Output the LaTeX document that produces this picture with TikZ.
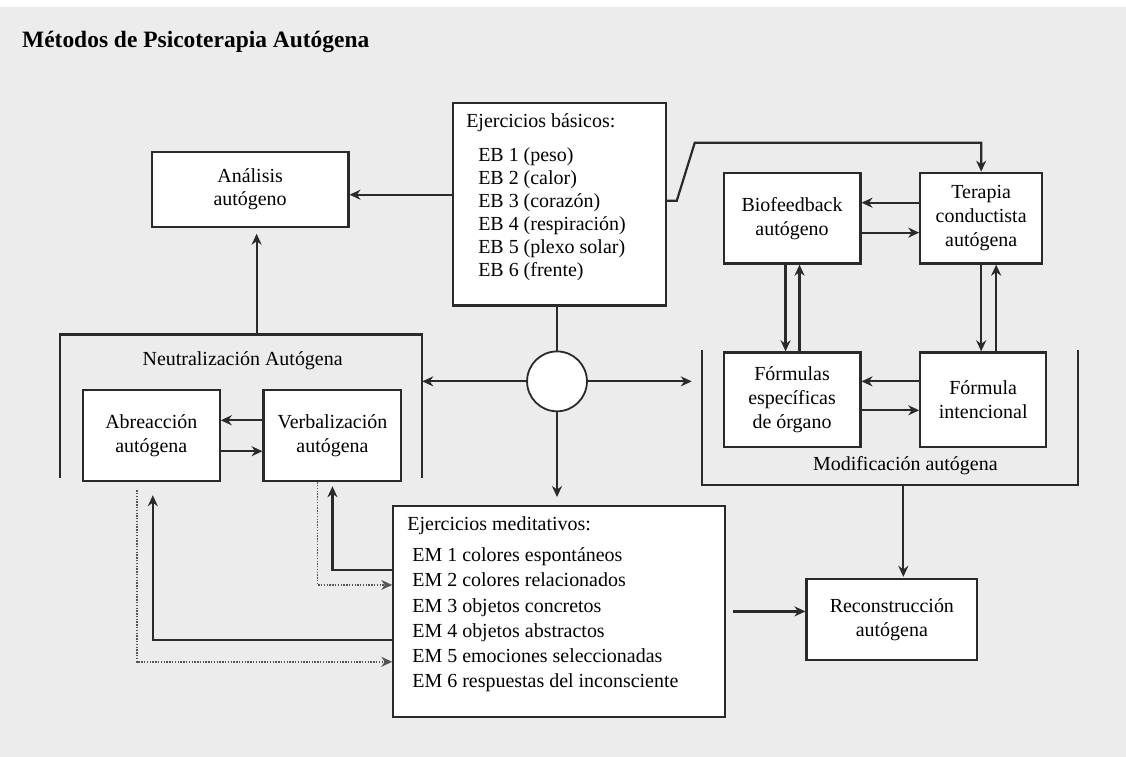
\documentclass[tikz,border=0pt]{standalone}
\usepackage{fontspec}
\setmainfont{Liberation Serif}
\usetikzlibrary{arrows.meta,calc}
\definecolor{bgray}{HTML}{ECECEC}
\definecolor{ink}{HTML}{2A2A2A}
\newcommand\dgfont{\fontsize{20}{24}\selectfont}
\newcommand\dgtitle{\fontsize{23.5}{28}\selectfont\bfseries}
\begin{document}
\begin{tikzpicture}[x=1pt,y=-1pt,
  line width=2.2pt,
  every path/.style={draw=ink},
  box/.style={draw=ink, fill=white, line width=2.2pt, inner sep=0pt, align=center, font=\dgfont, text=black},
  txt/.style={inner sep=0pt, font=\dgfont, text=black, anchor=base west},
  arr/.style={-{Stealth[length=11pt,width=10pt,inset=3.5pt]}},
  dots/.style={draw=ink!80, line width=1.5pt, dash pattern=on 1.4pt off 1.4pt}
]
% canvas
\useasboundingbox (0,0) rectangle (1126,756);
\fill[bgray] (0,0) rectangle (1126,756);
\fill[white] (0,0) rectangle (1126,5);

% title
\node[inner sep=0pt, font=\dgtitle, anchor=base west] (title) at (20,46.7) {Métodos de Psicoterapia Autógena};

% boxes
\node[box, minimum width=197pt, minimum height=75pt] (ana) at (249.5,188.5) {Análisis\\autógeno};
\node[box, minimum width=213pt, minimum height=203pt] (eb) at (559.5,203.5) {};
\node[box, minimum width=137pt, minimum height=91pt] (bio) at (792.5,217.5) {Biofeedback\\autógeno};
\node[box, minimum width=122pt, minimum height=91pt] (ter) at (982,217.5) {Terapia\\conductista\\autógena};
\node[box, minimum width=137pt, minimum height=95pt] (esp) at (792.5,399.5) {Fórmulas\\específicas\\de órgano};
\node[box, minimum width=126pt, minimum height=95pt] (int) at (984,399.5) {Fórmula\\intencional};
\node[box, minimum width=137pt, minimum height=91pt] (abr) at (150.5,435.5) {Abreacción\\autógena};
\node[box, minimum width=138pt, minimum height=91pt] (ver) at (332,435.5) {Verbalización\\autógena};
\node[box, minimum width=332pt, minimum height=211pt] (em) at (559,611.5) {};
\node[box, minimum width=171pt, minimum height=81pt] (rec) at (892.5,619.5) {Reconstrucción\\autógena};
\node[box, circle, minimum size=60pt, line width=1.8pt] (circ) at (557,381) {};

% basic exercises list
\node[txt] (ebh) at (465,127) {Ejercicios básicos:};
\foreach \i/\t in {1/peso,2/calor,3/corazón,4/respiración,5/plexo solar,6/frente}
  \node[txt] (eb\i) at (477,{161+23*(\i-1)}) {EB \i\ (\t)};

% meditative exercises list
\node[txt] (emh) at (406,530) {Ejercicios meditativos:};
\foreach \i/\t in {1/colores espontáneos,2/colores relacionados,3/objetos concretos,4/objetos abstractos,5/emociones seleccionadas,6/respuestas del inconsciente}
  \node[txt] (em\i) at (411,{561.7+25.2*(\i-1)}) {EM \i\ \t};

% group brackets
\coordinate (nbl) at (59,478);
\coordinate (ntl) at (59,334);
\coordinate (ntr) at (422,334);
\coordinate (nbr) at (422,478);
\coordinate (ntop) at (256,334);
\draw (nbl) -- (ntl) -- (ntr) -- (nbr);
\node[inner sep=0pt, font=\dgfont] (neu) at (242,360) {Neutralización Autógena};

\coordinate (mtl) at (702,350);
\coordinate (mbl) at (702,485);
\coordinate (mbr) at (1079,485);
\coordinate (mtr) at (1079,350);
\coordinate (mbot) at (904,485);
\draw (mtl) -- (mbl) -- (mbr) -- (mtr);
\node[inner sep=0pt, font=\dgfont] (mod) at (906,465) {Modificación autógena};

% connectors from the basic exercises
\coordinate (e1) at ([yshift=9.5pt]eb.west);
\draw[arr] (e1) -- (e1 -| ana.east);
\coordinate (k0) at ([yshift=3.5pt]eb.east);
\coordinate (k1) at (677,200);
\coordinate (k2) at (695,142);
\draw[arr] (k0) -- (k1) -- (k2) -- (k2 -| ter.north) -- (ter.north);
\draw (circ.north |- eb.south) -- (circ.north);

% hub
\draw[arr] (circ.west) -- (circ.west -| ntr);
\draw[arr, shorten >=10pt] (circ.east) -- (circ.east -| mtl);
\draw[arr, shorten >=8pt] (circ.south) -- (circ.south |- em.north);
\draw[arr, shorten >=6pt] (ntop) -- (ntop |- ana.south);
\draw[arr, shorten >=1pt] (mbot) -- (mbot |- rec.north);

% modification group
\draw[arr] ([yshift=15.5pt]ter.west) -- ([yshift=15.5pt]bio.east);
\draw[arr] ([yshift=-14.5pt]bio.east) -- ([yshift=-14.5pt]ter.west);
\draw[arr] ([xshift=-6.5pt]bio.south) -- ([xshift=-6.5pt]esp.north);
\draw[arr] ([xshift=7.5pt]esp.north) -- ([xshift=7.5pt]bio.south);
\coordinate (u1) at ([xshift=15pt]ter.south);
\draw[arr] (ter.south) -- (ter.south |- int.north);
\draw[arr] (u1 |- int.north) -- (u1);
\draw[arr] ([yshift=18.5pt]int.west) -- ([yshift=18.5pt]esp.east);
\draw[arr] ([yshift=-10.5pt]esp.east) -- ([yshift=-10.5pt]int.west);

% neutralization group
\draw[arr] ([yshift=15.5pt]ver.west) -- ([yshift=15.5pt]abr.east);
\draw[arr] ([yshift=-15.5pt]abr.east) -- ([yshift=-15.5pt]ver.west);

% meditative exercises feedback
\draw[arr, shorten <=7pt] (em.east) -- (em.east -| rec.west);
\coordinate (lv1) at (332,570);
\draw[arr, shorten >=4pt] (lv1 -| em.west) -- (lv1) -- (ver.south);
\coordinate (dv1) at (317,585);
\draw[dots, arr] (dv1 |- ver.south) -- (dv1) -- (dv1 -| em.west);
\coordinate (la1) at (152,640);
\draw[arr, shorten >=13pt] (la1 -| em.west) -- (la1) -- (la1 |- abr.south);
\coordinate (da0) at (136,490);
\coordinate (da1) at (136,662);
\draw[dots, arr] (da0) -- (da1) -- (da1 -| em.west);
\end{tikzpicture}
\end{document}
